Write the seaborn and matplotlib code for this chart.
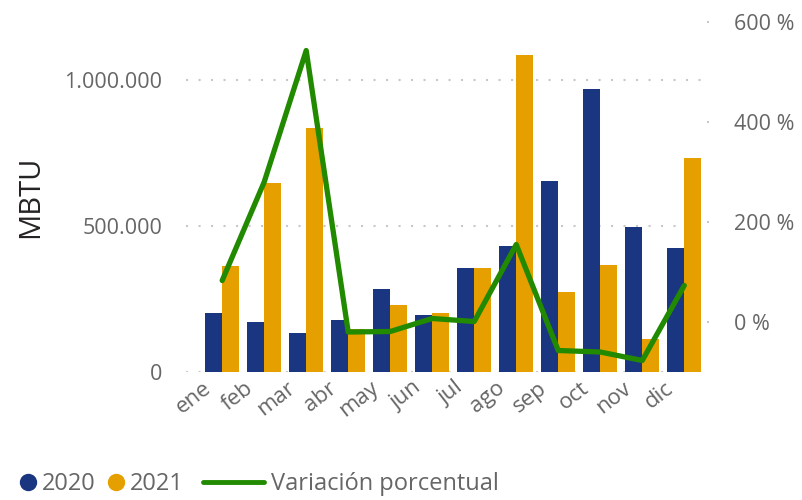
import seaborn as sns
import pandas as pd
import matplotlib.pyplot as plt
import matplotlib.transforms as mtransforms
from matplotlib.lines import Line2D
from matplotlib.ticker import FuncFormatter, FixedLocator

# Datos
meses = ['ene', 'feb', 'mar', 'abr', 'may', 'jun', 'jul', 'ago', 'sep', 'oct', 'nov', 'dic']
mbtu_2020 = [202000, 171000, 133000, 178000, 284000, 195000, 356000, 431000, 654000, 972000, 496000, 424000]
mbtu_2021 = [363000, 647000, 835000, 146000, 229000, 202000, 356000, 1088000, 274000, 366000, 113000, 733000]
variacion = [83, 280, 543, -20, -19, 7, 1, 155, -57, -60, -77, 73]

azul = '#1B3680'
naranja = '#E5A000'
verde = '#218A00'
gris = '#666666'

sns.set_theme(style='white')
plt.rcParams['font.family'] = ['Open Sans', 'DejaVu Sans']

df = pd.DataFrame({
    'mes': meses * 2,
    'anio': ['2020'] * 12 + ['2021'] * 12,
    'mbtu': mbtu_2020 + mbtu_2021,
})
df_var = pd.DataFrame({'mes': meses, 'var': variacion})

fig = plt.figure(figsize=(8.02, 5), dpi=100)
ax = fig.add_axes([0.232, 0.256, 0.65, 0.7])

sns.barplot(data=df, x='mes', y='mbtu', hue='anio', palette=[azul, naranja],
            width=0.81, saturation=1, ax=ax, legend=False,
            edgecolor='none', linewidth=0)
ax.set_ylim(0, 1200000)
ax.set_xlim(-0.86, 11.55)
ax.yaxis.set_major_locator(FixedLocator([0, 500000, 1000000]))
ax.yaxis.set_major_formatter(FuncFormatter(lambda v, p: f'{v:,.0f}'.replace(',', '.')))
ax.yaxis.grid(True, linestyle=(0, (1, 5)), color='#c8c8c8', linewidth=1.5)
ax.set_axisbelow(True)
ax.set_xlabel('')
ax.set_ylabel('MBTU', fontsize=21, color='#252423', labelpad=14)
ax.tick_params(axis='y', length=0, pad=17, labelsize=15.5, labelcolor=gris)
ax.tick_params(axis='x', length=0, pad=4, labelsize=16, labelcolor=gris)
desplazar = mtransforms.ScaledTranslation(-0.2, 0, fig.dpi_scale_trans)
for lbl in ax.get_xticklabels():
    lbl.set_rotation(38)
    lbl.set_ha('right')
    lbl.set_rotation_mode('anchor')
    lbl.set_transform(lbl.get_transform() + desplazar)

ax2 = ax.twinx()
sns.lineplot(data=df_var, x='mes', y='var', color=verde, linewidth=3.8, ax=ax2,
             sort=False)
ax2.set_ylim(-100, 600)
ax2.yaxis.set_major_locator(FixedLocator([0, 200, 400, 600]))
ax2.yaxis.set_major_formatter(FuncFormatter(lambda v, p: f'{v:.0f} %'))
ax2.set_ylabel('')
ax2.tick_params(axis='y', length=1.5, width=1.5, color='#c8c8c8', pad=18,
                labelsize=15.5, labelcolor=gris)

for a in (ax, ax2):
    for s in a.spines.values():
        s.set_visible(False)

circulos = [
    Line2D([], [], marker='o', ls='', markersize=11.5, color=azul),
    Line2D([], [], marker='o', ls='', markersize=11.5, color=naranja),
]
fig.legend(circulos, ['2020', '2021'], loc='lower left',
           bbox_to_anchor=(0.005, -0.02), ncol=2, frameon=False, fontsize=17,
           labelcolor=gris, handletextpad=0.2, columnspacing=0.45,
           handlelength=0.8, borderpad=0.1)
fig.legend([Line2D([], [], color=verde, linewidth=3.5)], ['Variación porcentual'],
           loc='lower left', bbox_to_anchor=(0.235, -0.02), frameon=False,
           fontsize=17, labelcolor=gris, handletextpad=0.3,
           handlelength=2.6, borderpad=0.1)

fig.savefig('out.png', dpi=100)
